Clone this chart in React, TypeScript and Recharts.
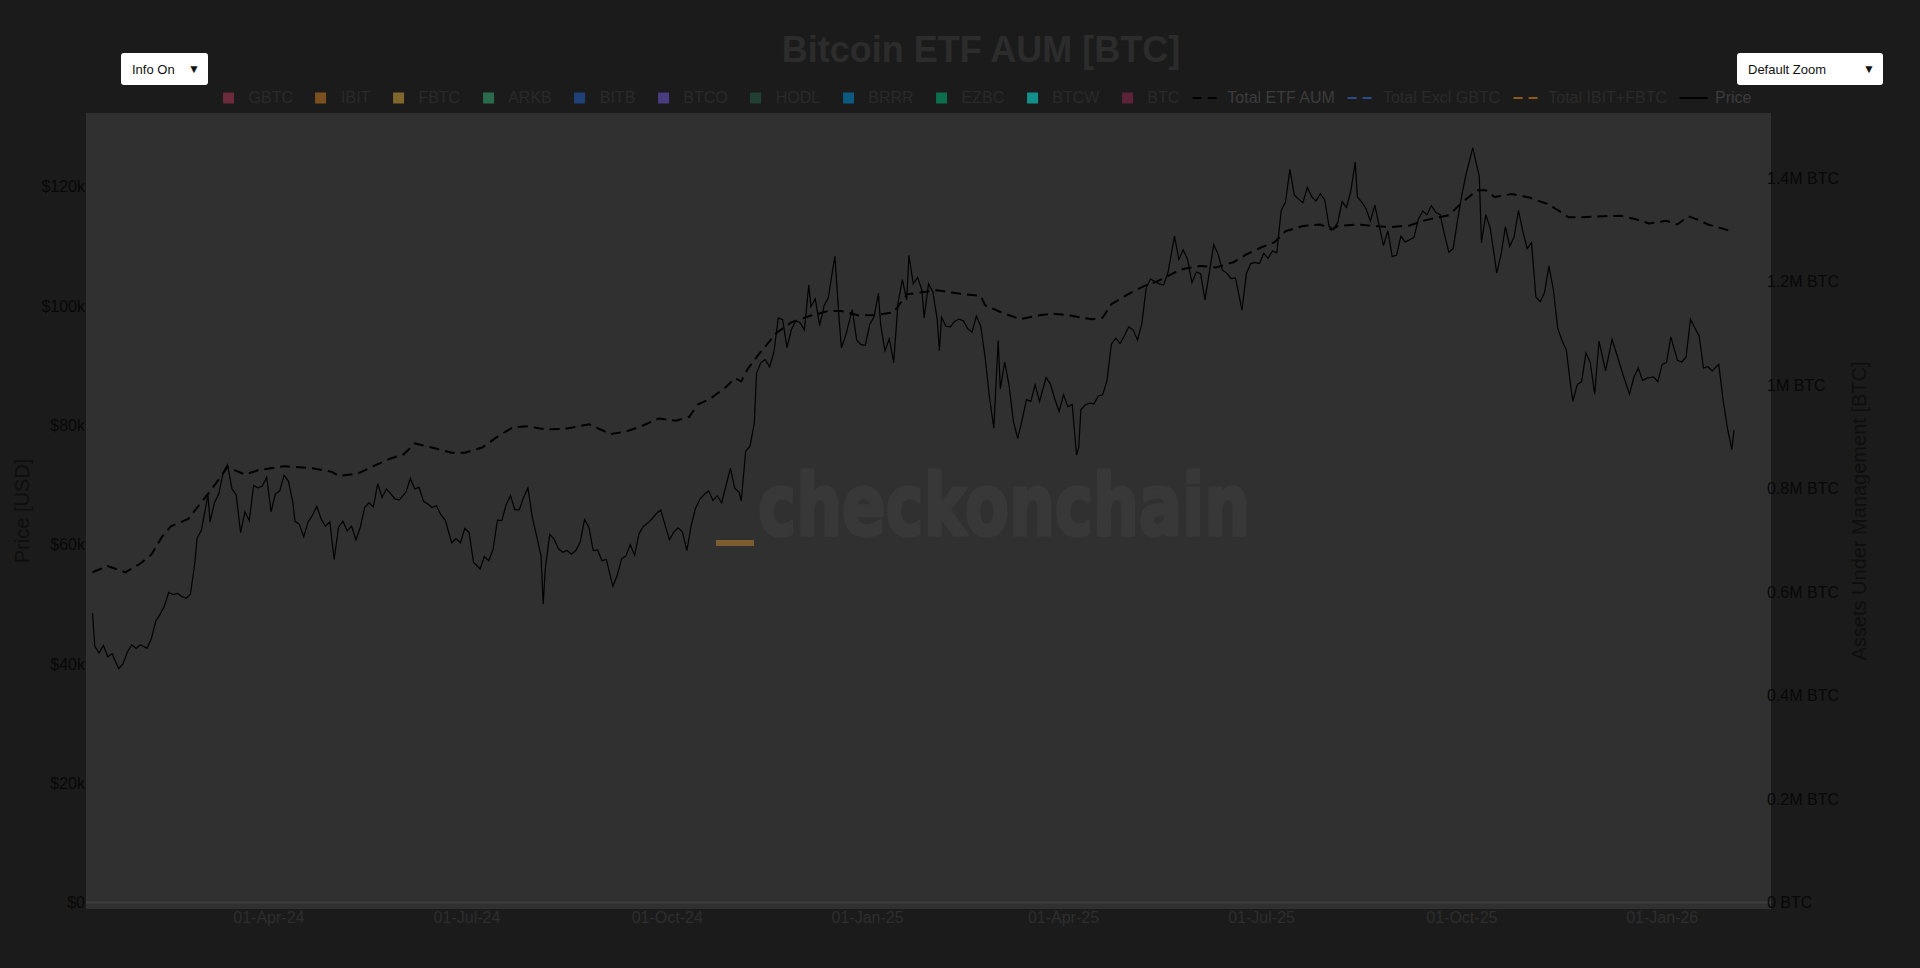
import React from 'react';
import { LineChart, Line, XAxis, YAxis, ReferenceLine } from 'recharts';

// BTC price (USD thousands)
const priceDates = [
  '2024-01-11', '2024-01-12', '2024-01-14', '2024-01-16', '2024-01-18', '2024-01-20', '2024-01-23', '2024-01-25', '2024-01-27', '2024-01-29', '2024-01-31',
  '2024-02-02', '2024-02-05', '2024-02-07', '2024-02-09', '2024-02-11', '2024-02-13', '2024-02-15', '2024-02-17', '2024-02-19', '2024-02-21', '2024-02-23', '2024-02-25', '2024-02-27', '2024-02-28',
  '2024-03-01', '2024-03-04', '2024-03-05', '2024-03-07', '2024-03-09', '2024-03-11', '2024-03-13', '2024-03-15', '2024-03-17', '2024-03-19', '2024-03-21', '2024-03-23', '2024-03-25', '2024-03-27', '2024-03-29', '2024-03-31',
  '2024-04-02', '2024-04-04', '2024-04-06', '2024-04-08', '2024-04-10', '2024-04-12', '2024-04-13', '2024-04-15', '2024-04-17', '2024-04-19', '2024-04-21', '2024-04-23', '2024-04-25', '2024-04-27', '2024-04-29',
  '2024-05-01', '2024-05-03', '2024-05-05', '2024-05-07', '2024-05-09', '2024-05-11', '2024-05-13', '2024-05-15', '2024-05-17', '2024-05-19', '2024-05-21', '2024-05-23', '2024-05-25', '2024-05-27', '2024-05-29', '2024-05-31',
  '2024-06-03', '2024-06-05', '2024-06-07', '2024-06-09', '2024-06-11', '2024-06-13', '2024-06-15', '2024-06-17', '2024-06-19', '2024-06-21', '2024-06-24', '2024-06-26', '2024-06-28', '2024-06-30',
  '2024-07-02', '2024-07-04', '2024-07-05', '2024-07-07', '2024-07-09', '2024-07-11', '2024-07-13', '2024-07-15', '2024-07-17', '2024-07-19', '2024-07-21', '2024-07-23', '2024-07-25', '2024-07-27', '2024-07-29', '2024-07-31',
  '2024-08-02', '2024-08-04', '2024-08-05', '2024-08-06', '2024-08-08', '2024-08-10', '2024-08-12', '2024-08-14', '2024-08-16', '2024-08-18', '2024-08-20', '2024-08-22', '2024-08-24', '2024-08-26', '2024-08-28', '2024-08-30',
  '2024-09-01', '2024-09-03', '2024-09-06', '2024-09-08', '2024-09-10', '2024-09-12', '2024-09-14', '2024-09-16', '2024-09-18', '2024-09-20', '2024-09-22', '2024-09-24', '2024-09-26', '2024-09-28', '2024-09-30',
  '2024-10-02', '2024-10-04', '2024-10-06', '2024-10-08', '2024-10-10', '2024-10-12', '2024-10-14', '2024-10-16', '2024-10-18', '2024-10-20', '2024-10-22', '2024-10-24', '2024-10-26', '2024-10-28', '2024-10-30',
  '2024-11-01', '2024-11-03', '2024-11-04', '2024-11-06', '2024-11-08', '2024-11-10', '2024-11-11', '2024-11-13', '2024-11-15', '2024-11-17', '2024-11-19', '2024-11-21', '2024-11-23', '2024-11-25', '2024-11-27', '2024-11-29',
  '2024-12-01', '2024-12-03', '2024-12-05', '2024-12-06', '2024-12-08', '2024-12-10', '2024-12-12', '2024-12-14', '2024-12-16', '2024-12-17', '2024-12-19', '2024-12-20', '2024-12-22', '2024-12-25', '2024-12-27', '2024-12-29', '2024-12-31',
  '2025-01-02', '2025-01-04', '2025-01-06', '2025-01-07', '2025-01-09', '2025-01-11', '2025-01-13', '2025-01-15', '2025-01-17', '2025-01-19', '2025-01-20', '2025-01-22', '2025-01-24', '2025-01-26', '2025-01-27', '2025-01-29', '2025-01-31',
  '2025-02-02', '2025-02-03', '2025-02-04', '2025-02-06', '2025-02-08', '2025-02-10', '2025-02-12', '2025-02-14', '2025-02-16', '2025-02-18', '2025-02-20', '2025-02-22', '2025-02-24', '2025-02-26', '2025-02-28',
  '2025-03-02', '2025-03-03', '2025-03-05', '2025-03-07', '2025-03-09', '2025-03-11', '2025-03-13', '2025-03-15', '2025-03-17', '2025-03-19', '2025-03-21', '2025-03-24', '2025-03-26', '2025-03-28', '2025-03-30',
  '2025-04-01', '2025-04-03', '2025-04-05', '2025-04-07', '2025-04-08', '2025-04-09', '2025-04-11', '2025-04-13', '2025-04-15', '2025-04-17', '2025-04-19', '2025-04-21', '2025-04-23', '2025-04-25', '2025-04-27', '2025-04-29',
  '2025-05-01', '2025-05-03', '2025-05-05', '2025-05-07', '2025-05-09', '2025-05-11', '2025-05-13', '2025-05-15', '2025-05-17', '2025-05-19', '2025-05-21', '2025-05-22', '2025-05-24', '2025-05-26', '2025-05-28', '2025-05-30',
  '2025-06-01', '2025-06-03', '2025-06-05', '2025-06-07', '2025-06-09', '2025-06-11', '2025-06-13', '2025-06-15', '2025-06-17', '2025-06-19', '2025-06-22', '2025-06-24', '2025-06-26', '2025-06-28', '2025-06-30',
  '2025-07-02', '2025-07-04', '2025-07-06', '2025-07-08', '2025-07-10', '2025-07-12', '2025-07-14', '2025-07-16', '2025-07-18', '2025-07-20', '2025-07-22', '2025-07-24', '2025-07-26', '2025-07-28', '2025-07-30',
  '2025-08-01', '2025-08-03', '2025-08-05', '2025-08-07', '2025-08-09', '2025-08-11', '2025-08-13', '2025-08-14', '2025-08-16', '2025-08-18', '2025-08-20', '2025-08-22', '2025-08-24', '2025-08-26', '2025-08-28', '2025-08-30',
  '2025-09-01', '2025-09-03', '2025-09-05', '2025-09-07', '2025-09-09', '2025-09-11', '2025-09-13', '2025-09-15', '2025-09-17', '2025-09-19', '2025-09-21', '2025-09-23', '2025-09-25', '2025-09-27', '2025-09-29',
  '2025-10-01', '2025-10-03', '2025-10-06', '2025-10-08', '2025-10-09', '2025-10-10', '2025-10-12', '2025-10-14', '2025-10-16', '2025-10-17', '2025-10-19', '2025-10-21', '2025-10-23', '2025-10-25', '2025-10-27', '2025-10-29', '2025-10-31',
  '2025-11-02', '2025-11-04', '2025-11-06', '2025-11-08', '2025-11-10', '2025-11-12', '2025-11-14', '2025-11-16', '2025-11-18', '2025-11-20', '2025-11-21', '2025-11-23', '2025-11-25', '2025-11-27', '2025-11-29',
  '2025-12-01', '2025-12-03', '2025-12-06', '2025-12-09', '2025-12-12', '2025-12-14', '2025-12-17', '2025-12-19', '2025-12-21', '2025-12-23', '2025-12-25', '2025-12-28', '2025-12-30',
  '2026-01-01', '2026-01-03', '2026-01-05', '2026-01-08', '2026-01-10', '2026-01-12', '2026-01-14', '2026-01-17', '2026-01-18', '2026-01-20', '2026-01-22', '2026-01-24', '2026-01-27', '2026-01-29', '2026-01-31',
  '2026-02-02', '2026-02-03',
];

const priceUsdK = [
  48.5, 43.0, 41.8, 43.1, 41.2, 41.7, 39.2, 40.0, 42.0, 43.2, 42.6,
  43.2, 42.6, 44.2, 47.1, 48.3, 49.7, 52.0, 51.6, 51.8, 51.3, 51.0, 51.7, 57.0, 61.0,
  62.4, 68.3, 63.8, 67.0, 68.5, 72.1, 73.4, 69.4, 68.3, 62.0, 65.5, 64.0, 69.9, 69.5, 69.8, 71.3,
  65.5, 68.5, 69.0, 71.6, 70.6, 67.1, 63.9, 63.4, 61.3, 63.8, 64.9, 66.4, 64.3, 63.1, 63.8,
  57.5, 62.9, 63.9, 62.3, 63.1, 60.8, 62.9, 66.2, 67.0, 66.3, 70.2, 67.9, 69.3, 68.5, 67.6, 67.5,
  68.8, 71.1, 69.3, 69.6, 67.3, 66.8, 66.2, 66.5, 65.0, 64.1, 60.3, 61.0, 60.3, 62.7,
  62.0, 57.0, 56.7, 55.9, 58.0, 57.3, 59.2, 64.1, 64.0, 66.7, 68.2, 65.8, 65.8, 67.9, 69.5, 64.6,
  61.4, 58.1, 50.0, 56.0, 61.7, 60.9, 59.3, 58.7, 59.0, 58.4, 59.0, 60.4, 64.2, 62.9, 59.0, 59.1,
  57.3, 57.5, 53.0, 54.8, 57.6, 58.1, 60.0, 58.2, 61.8, 63.0, 63.6, 64.3, 65.2, 65.8, 63.3,
  60.8, 62.1, 62.8, 62.1, 59.0, 63.2, 66.1, 67.6, 68.4, 69.0, 67.4, 68.2, 67.0, 69.9, 72.8,
  69.4, 68.8, 67.3, 75.6, 76.5, 80.4, 88.7, 90.5, 91.0, 89.8, 92.3, 98.0, 97.7, 93.0, 96.0, 97.5,
  97.2, 96.0, 103.5, 99.9, 101.2, 96.7, 100.0, 101.4, 106.1, 108.3, 97.5, 93.0, 95.1, 99.4, 94.3, 93.5, 93.4,
  96.9, 98.2, 102.1, 96.9, 92.5, 94.5, 90.5, 100.5, 104.4, 101.0, 108.5, 103.7, 104.8, 102.6, 98.0, 103.7, 102.4,
  97.7, 92.5, 98.1, 96.6, 96.5, 97.4, 97.8, 97.5, 96.2, 95.6, 98.3, 96.6, 91.4, 84.7, 79.5,
  94.2, 86.1, 90.6, 86.7, 80.6, 77.8, 80.9, 84.3, 84.0, 86.8, 84.0, 88.0, 86.9, 84.4, 82.3,
  85.1, 83.1, 83.5, 75.0, 76.3, 82.6, 83.4, 83.7, 83.6, 84.9, 85.1, 87.5, 93.6, 94.6, 93.7, 95.0,
  96.5, 96.0, 94.3, 97.0, 103.0, 104.5, 104.1, 103.7, 103.5, 105.6, 109.7, 111.7, 107.8, 109.4, 107.8, 103.9,
  105.7, 105.4, 101.0, 105.6, 110.3, 108.7, 106.0, 105.5, 104.6, 104.7, 99.3, 105.4, 107.1, 107.3, 107.1,
  108.8, 108.0, 109.2, 108.9, 116.0, 117.4, 122.9, 118.6, 117.9, 117.3, 119.9, 118.3, 117.6, 118.8, 117.8,
  113.3, 112.8, 114.0, 117.5, 116.5, 119.3, 124.1, 118.3, 117.4, 116.3, 114.2, 116.9, 113.5, 110.1, 112.6, 108.3,
  108.5, 111.7, 110.7, 111.1, 111.5, 114.5, 115.9, 115.3, 116.8, 115.7, 115.3, 112.0, 109.0, 109.6, 114.3,
  118.6, 122.2, 126.5, 123.3, 121.7, 110.6, 115.3, 113.1, 108.2, 105.5, 108.6, 113.3, 110.0, 111.6, 116.0, 112.5, 109.6,
  110.6, 101.5, 100.7, 102.3, 106.7, 102.8, 96.3, 94.2, 92.6, 86.5, 84.0, 86.8, 87.3, 92.1, 90.5,
  85.2, 94.1, 89.1, 94.4, 90.9, 88.5, 85.2, 88.0, 89.6, 87.5, 87.9, 88.1, 87.3,
  90.2, 90.5, 94.8, 90.9, 90.6, 91.4, 97.8, 95.6, 95.0, 89.6, 89.8, 89.1, 90.2, 84.2, 79.5,
  75.9, 79.2,
];

// Total ETF AUM (million BTC)
const aumDates = [
  '2024-01-11', '2024-01-18', '2024-01-26', '2024-02-02', '2024-02-07', '2024-02-12', '2024-02-16', '2024-02-24', '2024-02-29',
  '2024-03-06', '2024-03-13', '2024-03-21', '2024-03-27', '2024-04-08', '2024-04-21', '2024-04-30', '2024-05-03', '2024-05-12',
  '2024-05-20', '2024-05-27', '2024-06-02', '2024-06-07', '2024-06-15', '2024-06-24', '2024-06-30', '2024-07-08', '2024-07-15',
  '2024-07-22', '2024-07-29', '2024-08-06', '2024-08-15', '2024-08-26', '2024-09-05', '2024-09-12', '2024-09-19', '2024-09-27',
  '2024-10-05', '2024-10-11', '2024-10-15', '2024-10-21', '2024-10-28', '2024-11-01', '2024-11-04', '2024-11-07', '2024-11-12',
  '2024-11-20', '2024-11-27', '2024-12-06', '2024-12-14', '2024-12-20', '2024-12-28', '2025-01-04', '2025-01-13', '2025-01-19',
  '2025-02-02', '2025-02-11', '2025-02-22', '2025-02-24', '2025-03-03', '2025-03-12', '2025-03-20', '2025-03-27', '2025-04-04',
  '2025-04-14', '2025-04-19', '2025-04-23', '2025-05-01', '2025-05-08', '2025-05-14', '2025-05-22', '2025-05-26', '2025-06-03',
  '2025-06-10', '2025-06-18', '2025-06-24', '2025-07-01', '2025-07-07', '2025-07-12', '2025-07-20', '2025-07-28', '2025-08-02',
  '2025-08-05', '2025-08-14', '2025-08-22', '2025-08-29', '2025-09-07', '2025-09-14', '2025-09-25', '2025-10-01', '2025-10-08',
  '2025-10-12', '2025-10-16', '2025-10-24', '2025-11-01', '2025-11-09', '2025-11-14', '2025-11-19', '2025-11-25', '2025-12-05',
  '2025-12-13', '2025-12-20', '2025-12-26', '2026-01-03', '2026-01-08', '2026-01-13', '2026-01-17', '2026-01-22', '2026-01-28',
  '2026-02-03',
];

const aumMBtc = [
  0.638, 0.650, 0.638, 0.655, 0.672, 0.707, 0.727, 0.741, 0.768,
  0.800, 0.841, 0.827, 0.835, 0.843, 0.839, 0.832, 0.824, 0.829,
  0.845, 0.858, 0.866, 0.887, 0.879, 0.869, 0.869, 0.879, 0.900,
  0.918, 0.920, 0.914, 0.915, 0.924, 0.905, 0.910, 0.920, 0.935,
  0.931, 0.938, 0.962, 0.974, 0.996, 1.013, 1.007, 1.031, 1.059,
  1.100, 1.121, 1.134, 1.143, 1.143, 1.134, 1.135, 1.140, 1.175,
  1.183, 1.177, 1.172, 1.154, 1.141, 1.127, 1.134, 1.138, 1.134,
  1.127, 1.130, 1.156, 1.176, 1.191, 1.200, 1.217, 1.224, 1.230,
  1.227, 1.237, 1.252, 1.266, 1.276, 1.297, 1.307, 1.310, 1.300,
  1.307, 1.310, 1.307, 1.305, 1.308, 1.318, 1.328, 1.352, 1.376,
  1.376, 1.363, 1.369, 1.362, 1.350, 1.338, 1.324, 1.324, 1.326,
  1.327, 1.320, 1.312, 1.317, 1.310, 1.326, 1.320, 1.310, 1.303,
  1.295,
];

const xTickDates = ['2024-04-01', '2024-07-01', '2024-10-01', '2025-01-01', '2025-04-01', '2025-07-01', '2025-10-01', '2026-01-01'];
const priceTicks = [0, 20000, 40000, 60000, 80000, 100000, 120000];
const aumTicks = [0, 200000, 400000, 600000, 800000, 1000000, 1200000, 1400000];

const legendItems = [
  { name: 'GBTC', color: '#6b2b3b', kind: 'square', on: false },
  { name: 'IBIT', color: '#7a5020', kind: 'square', on: false },
  { name: 'FBTC', color: '#80672e', kind: 'square', on: false },
  { name: 'ARKB', color: '#2b6b4b', kind: 'square', on: false },
  { name: 'BITB', color: '#1e4278', kind: 'square', on: false },
  { name: 'BTCO', color: '#4b3b80', kind: 'square', on: false },
  { name: 'HODL', color: '#223f33', kind: 'square', on: false },
  { name: 'BRRR', color: '#0c5a80', kind: 'square', on: false },
  { name: 'EZBC', color: '#0d6e4e', kind: 'square', on: false },
  { name: 'BTCW', color: '#13908a', kind: 'square', on: false },
  { name: 'BTC', color: '#5b2239', kind: 'square', on: false },
  { name: 'Total ETF AUM', color: '#000000', kind: 'dash', on: true },
  { name: 'Total Excl GBTC', color: '#2b4a8a', kind: 'dash', on: false },
  { name: 'Total IBIT+FBTC', color: '#8a5a22', kind: 'dash', on: false },
  { name: 'Price', color: '#000000', kind: 'line', on: true },
];

const MONTHS = ['Jan', 'Feb', 'Mar', 'Apr', 'May', 'Jun', 'Jul', 'Aug', 'Sep', 'Oct', 'Nov', 'Dec'];
const toT = (s: string) => Date.UTC(+s.slice(0, 4), +s.slice(5, 7) - 1, +s.slice(8, 10));
const fmtDate = (t: number) => {
  const d = new Date(t);
  return `${String(d.getUTCDate()).padStart(2, '0')}-${MONTHS[d.getUTCMonth()]}-${String(d.getUTCFullYear()).slice(2)}`;
};
const fmtPrice = (v: number) => (v === 0 ? '$0' : `$${v / 1000}k`);
const fmtAum = (v: number) => (v === 0 ? '0 BTC' : `${+(v / 1e6).toFixed(1)}M BTC`);

const priceData = priceDates.map((d, i) => ({ t: toT(d), v: priceUsdK[i] * 1000 }));
const aumData = aumDates.map((d, i) => ({ t: toT(d), v: aumMBtc[i] * 1e6 }));
const xTicks = xTickDates.map(toT);

const FONT = '"Liberation Sans", Arial, Helvetica, sans-serif';
const PLOT = { left: 86, top: 113, right: 1771, bottom: 909 };
const AXIS_W = 110;

const LegendSymbol = ({ kind, color }: { kind: string; color: string }) => (
  <svg width={40} height={18} style={{ flex: 'none' }}>
    {kind === 'square' && <rect x={14.5} y={3.5} width={11} height={11} fill={color} />}
    {kind === 'dash' && <line x1={5} x2={33} y1={9} y2={9} stroke={color} strokeWidth={2} strokeDasharray="9 6" />}
    {kind === 'line' && <line x1={5} x2={33} y1={9} y2={9} stroke={color} strokeWidth={2} />}
  </svg>
);

const Button = ({ label, left, width }: { label: string; left: number; width: number }) => (
  <div style={{
    position: 'absolute', left, top: 53, width, height: 32, background: '#ffffff', borderRadius: 3,
    fontFamily: FONT, fontSize: 13, color: '#111', display: 'flex', alignItems: 'center',
    justifyContent: 'space-between', padding: '0 8px 0 11px', boxSizing: 'border-box',
  }}>
    <span>{label}</span>
    <span style={{ fontSize: 12 }}>▼</span>
  </div>
);

export default function App() {
  return (
    <div style={{ position: 'absolute', left: 0, top: 0, width: 1920, height: 968, background: '#1b1b1b', overflow: 'hidden' }}>
      {/* plot background */}
      <div style={{
        position: 'absolute', left: PLOT.left, top: PLOT.top,
        width: PLOT.right - PLOT.left, height: PLOT.bottom - PLOT.top, background: '#303030',
      }} />

      {/* watermark */}
      <svg width={1920} height={968} style={{ position: 'absolute', left: 0, top: 0 }}>
        <rect x={716} y={540} width={38} height={6} fill="#7d5d30" />
        <text x={758} y={535} fontFamily='"DejaVu Sans", "Open Sans", sans-serif' fontWeight="bold" fontSize={86}
          fill="#383838" stroke="#383838" strokeWidth={3.5} strokeLinejoin="round"
          textLength={492} lengthAdjust="spacingAndGlyphs">checkonchain</text>
      </svg>

      <div style={{ position: 'absolute', left: 0, top: 0 }}>
        <LineChart
          width={1920} height={968}
          margin={{ top: PLOT.top, left: PLOT.left - 60, right: 1920 - PLOT.right - AXIS_W, bottom: 968 - PLOT.bottom - 30 }}
        >
          <XAxis
            dataKey="t" type="number" scale="time" domain={[Date.UTC(2024, 0, 8), Date.UTC(2026, 1, 20)]}
            allowDataOverflow ticks={xTicks} tickFormatter={fmtDate} interval={0}
            height={30} axisLine={false} tickLine={false} tickSize={0} tickMargin={3}
            tick={{ fill: '#2e2e2e', fontSize: 16, fontFamily: FONT }}
          />
          <YAxis
            yAxisId="left" orientation="left" domain={[-1090, 132340]} allowDataOverflow
            ticks={priceTicks} tickFormatter={fmtPrice} interval={0} width={60}
            axisLine={false} tickLine={false} tickSize={0} tickMargin={1}
            tick={{ fill: '#080808', fontSize: 16, fontFamily: FONT }}
          />
          <YAxis
            yAxisId="right" orientation="right" domain={[-12560, 1525400]} allowDataOverflow
            ticks={aumTicks} tickFormatter={fmtAum} interval={0} width={AXIS_W}
            axisLine={false} tickLine={false} tickSize={0} tickMargin={-4}
            tick={{ fill: '#080808', fontSize: 16, fontFamily: FONT, textAnchor: 'start' }}
          />
          <ReferenceLine yAxisId="left" y={0} stroke="#3e3e3e" strokeWidth={2} />
          <Line
            yAxisId="right" data={aumData} dataKey="v" type="linear" stroke="#000000" strokeWidth={2}
            strokeDasharray="10 6" dot={false} activeDot={false} isAnimationActive={false}
          />
          <Line
            yAxisId="left" data={priceData} dataKey="v" type="linear" stroke="#000000" strokeWidth={1.2}
            dot={false} activeDot={false} isAnimationActive={false}
          />
        </LineChart>
      </div>

      {/* title, axis titles */}
      <svg width={1920} height={968} style={{ position: 'absolute', left: 0, top: 0, pointerEvents: 'none' }}>
        <text x={981} y={61.5} textAnchor="middle" fontFamily={FONT} fontWeight={700} fontSize={36} fill="#2c2c2c">
          Bitcoin ETF AUM [BTC]
        </text>
        <text x={21.5} y={511} transform="rotate(-90 21.5 511)" textAnchor="middle" dominantBaseline="central"
          fontFamily={FONT} fontSize={20} fill="#0e0e0e">Price [USD]</text>
        <text x={1859} y={511} transform="rotate(-90 1859 511)" textAnchor="middle" dominantBaseline="central"
          fontFamily={FONT} fontSize={20} fill="#0e0e0e">Assets Under Management [BTC]</text>
      </svg>

      {/* legend */}
      <div style={{
        position: 'absolute', left: 980, top: 89, transform: 'translateX(-50%)', display: 'flex', gap: 8,
        whiteSpace: 'nowrap', fontFamily: FONT, fontSize: 16, lineHeight: '18px',
      }}>
        {legendItems.map((it) => (
          <div key={it.name} style={{ display: 'flex', alignItems: 'center' }}>
            <LegendSymbol kind={it.kind} color={it.color} />
            <span style={{ color: it.on ? '#3c3c3c' : '#2a2a2a' }}>{it.name}</span>
          </div>
        ))}
      </div>

      <Button label="Info On" left={121} width={87} />
      <Button label="Default Zoom" left={1737} width={146} />
    </div>
  );
}
